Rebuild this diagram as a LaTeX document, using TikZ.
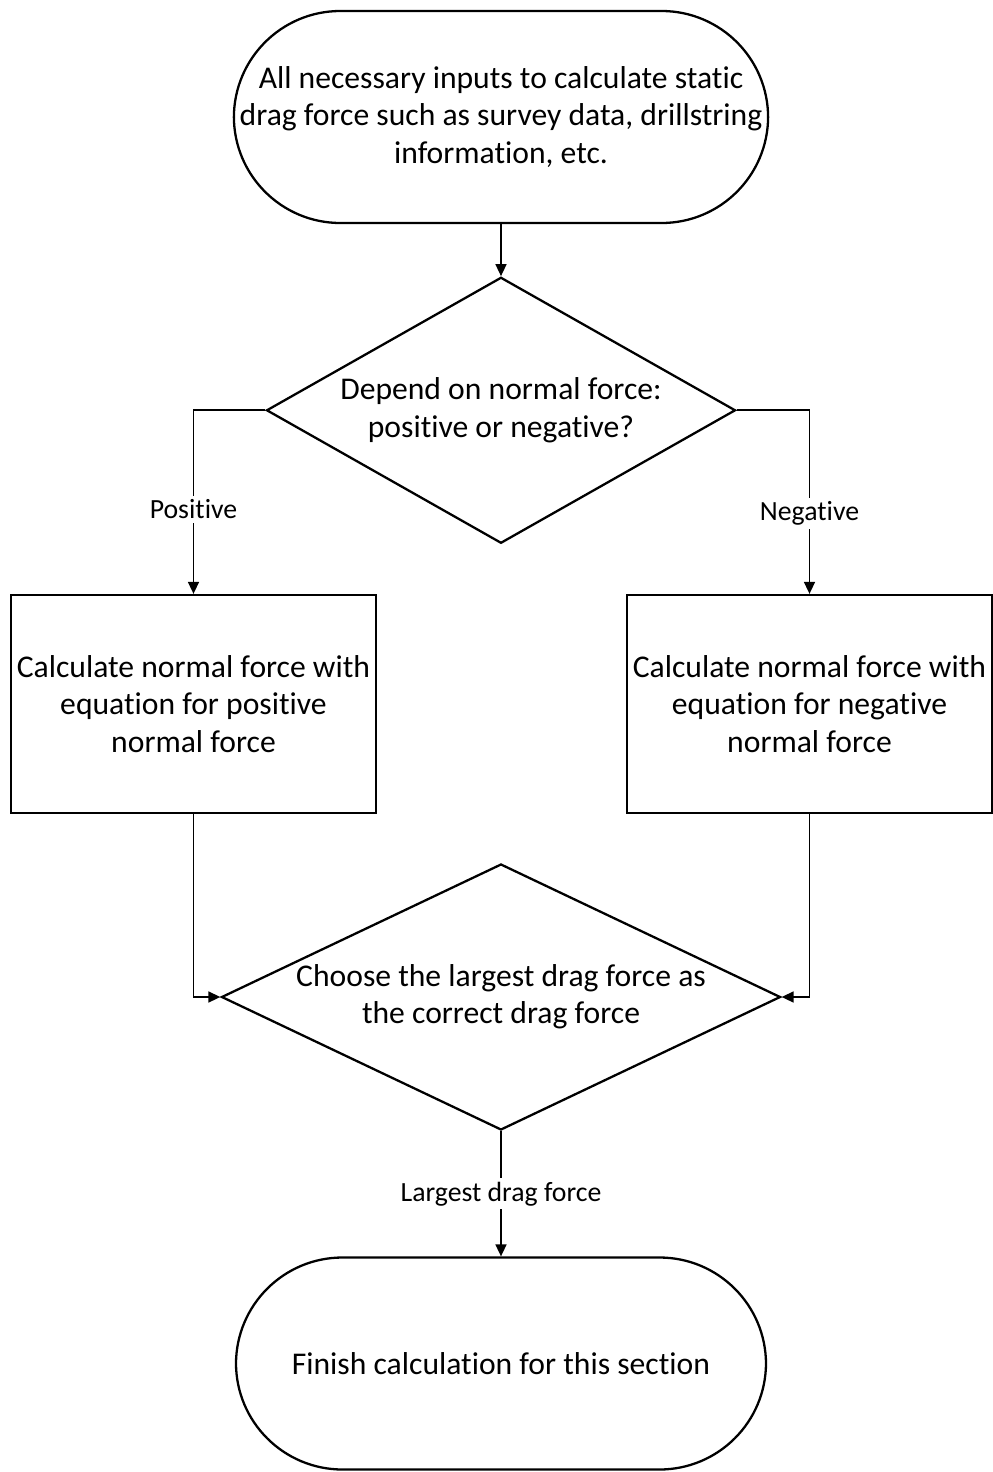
\documentclass[tikz,border=0pt]{standalone}
\usepackage{fontspec}
\setmainfont{Carlito}[Ligatures=NoCommon]
\usetikzlibrary{shapes.geometric, arrows.meta, positioning}

\begin{document}
\begin{tikzpicture}[
    >={Triangle[length=0.24cm, width=0.22cm]},
    terminal/.style={draw, line width=1.3pt, rounded corners=2.13cm, minimum width=10.6cm, minimum height=4.24cm, align=center, font=\fontsize{18}{21.3}\selectfont},
    decision/.style={draw, diamond, line width=1.3pt, inner sep=0pt, minimum height=5.32cm, align=center, font=\fontsize{18}{21.3}\selectfont},
    box/.style={draw, line width=1.3pt, minimum width=7.26cm, minimum height=4.36cm, align=center, font=\fontsize{18}{21.3}\selectfont},
    label/.style={fill=white, inner sep=2pt, font=\fontsize{15.8}{18}\selectfont},
    arrow/.style={->, line width=0.9pt},
  ]
  \useasboundingbox (-10.02,2.34) rectangle (9.84,-27.1);

  % --- Start ---
  \node[terminal] (start) at (0,0) {All necessary inputs to calculate static\\drag force such as survey data, drillstring\\information, etc.};

  % --- First decision ---
  \node[decision, minimum width=9.38cm, aspect=1.76, below=1.04cm of start] (signdec) {Depend on normal force:\\positive or negative?};

  % --- Normal force boxes ---
  \node[box] (posbox) at (-6.15,-11.74) {Calculate normal force with\\equation for positive\\normal force};
  \node[box] (negbox) at (6.17,-11.74) {Calculate normal force with\\equation for negative\\normal force};

  % --- Second decision ---
  \node[decision, minimum width=11.18cm, aspect=2.09] (maxdec) at (0,-17.6) {Choose the largest drag force as\\the correct drag force};

  % --- Finish ---
  \node[terminal] (finish) at (0,-24.93) {Finish calculation for this section};

  % --- Arrows ---
  \draw[arrow] (start) -- (signdec);
  \draw[arrow] (signdec.west) -| node[label, pos=0.77] (poslbl) {Positive} (posbox.north);
  \draw[arrow] (signdec.east) -| node[label, pos=0.78] (neglbl) {Negative} (negbox.north);
  \draw[arrow] (posbox.south) |- (maxdec.west);
  \draw[arrow] (negbox.south) |- (maxdec.east);
  \draw[arrow] (maxdec.south) -- node[label] (maxlbl) {Largest drag force} (finish.north);

\end{tikzpicture}
\end{document}
